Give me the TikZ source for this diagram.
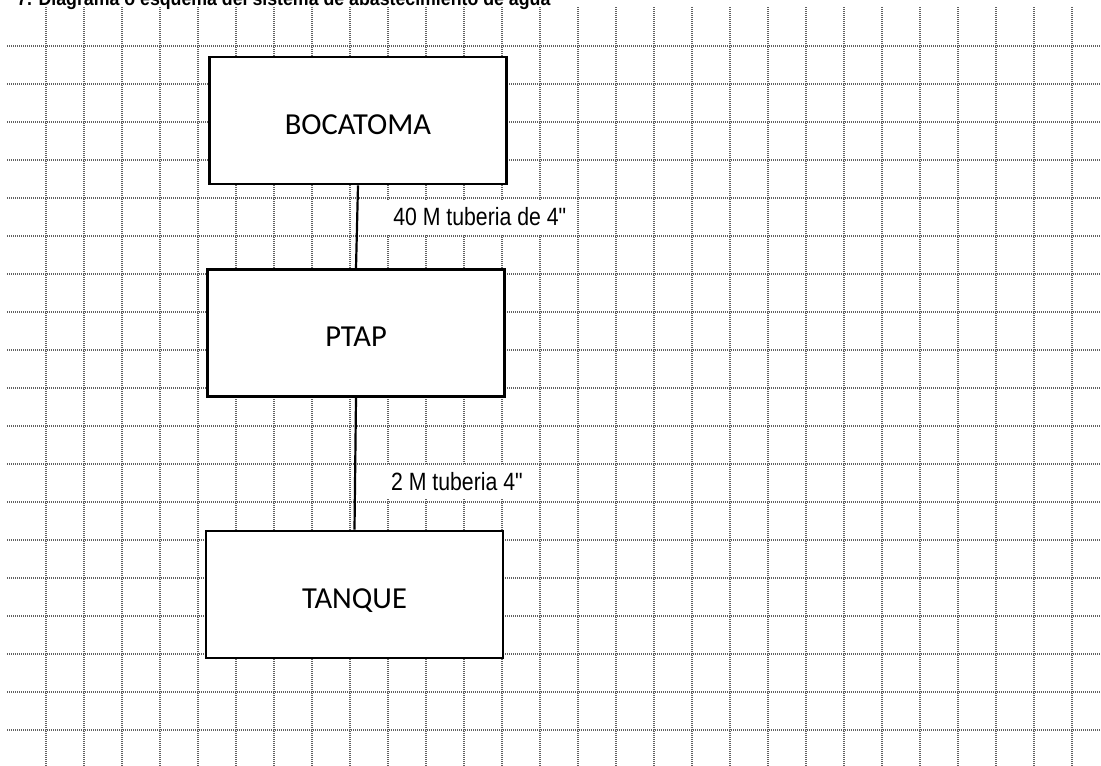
\documentclass[tikz,border=0pt]{standalone}
\usepackage{fontspec}
\setmainfont{Liberation Sans}
\newfontfamily\cajafont{Carlito}
\newfontfamily\lblfont[FakeStretch=0.85]{Liberation Sans}
\newfontfamily\titfont[FakeStretch=0.91]{Liberation Sans}
\usepackage{tikz}

\begin{document}
\begin{tikzpicture}[
  x=1pt, y=-1pt,
  rejilla/.style={draw=black!62, line width=1.8pt, dash pattern=on 1.4pt off 0.6pt},
  caja/.style={draw, fill=white, line width=2.6pt, minimum width=297pt,
               minimum height=127pt, inner sep=0pt, text height=27pt, text depth=0pt,
               font=\cajafont\fontsize{30.5}{36}\selectfont},
  tubo/.style={line width=2.2pt},
  lbl/.style={fill=white, inner xsep=8pt, inner ysep=0pt, minimum height=34pt,
              text height=20pt, text depth=4pt,
              font=\lblfont\fontsize{25}{30}\selectfont},
  titulo/.style={font=\titfont\bfseries\fontsize{19.5}{23}\selectfont, inner sep=0pt}
]
\useasboundingbox (0,0) rectangle (1101,766);

%% ---- cuadricula ----
\foreach \k in {0,...,27}
  \draw[rejilla] (46+38*\k, 7) -- (46+38*\k, 766);
\foreach \k in {0,...,18}
  \draw[rejilla] (7, 46+38*\k) -- (1101, 46+38*\k);

%% ---- titulo (cortado arriba) ----
\node[titulo, anchor=base west] (titulo) at (17,5)
  {7. Diagrama o esquema del sistema de abastecimiento de agua};

%% ---- cajas ----
\node[caja] (bocatoma) at (358,120.5) {BOCATOMA};
\node[caja] (ptap)     at (356,333)   {PTAP};
\node[caja] (tanque)   at (354.5,594.5) {TANQUE};

%% ---- tuberias ----
\draw[tubo] (bocatoma.south) -- (ptap.north)
  node[lbl, pos=0.39, anchor=west, xshift=27pt] (tub1) {40 M tuberia de 4"};

\draw[tubo] (ptap.south) -- (tanque.north)
  node[lbl, pos=0.64, anchor=west, xshift=27pt] (tub2) {2 M tuberia 4"};

\end{tikzpicture}
\end{document}
